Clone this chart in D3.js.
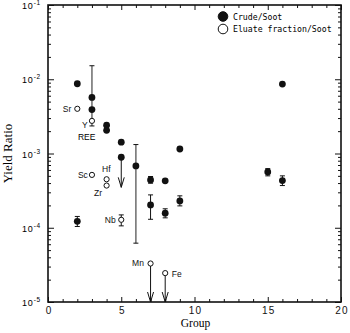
<!DOCTYPE html>
<html>
<head>
<meta charset="utf-8">
<script src="https://cdn.jsdelivr.net/npm/d3@7"></script>
<style>
  body { margin: 0; background: #fff; }
  svg { display: block; }
</style>
</head>
<body>
<div id="chart"></div>
<script>
// crude/soot (filled)
const crudeGroup = [2, 2, 3, 3, 4, 4, 5, 5, 6, 7, 7, 8, 8, 9, 9, 15, 16, 16];
const crudeRatio = [8.7e-3, 1.22e-4, 5.7e-3, 3.9e-3, 2.4e-3, 2.05e-3, 1.42e-3, 8.9e-4, 6.8e-4,
  4.4e-4, 2.03e-4, 4.28e-4, 1.57e-4, 1.15e-3, 2.3e-4, 5.65e-4, 8.6e-3, 4.32e-4];
const crudeLow = [null, 1.04e-4, null, null, null, null, null, null, null,
  3.98e-4, 1.3e-4, null, 1.36e-4, null, 1.97e-4, 5.0e-4, null, 3.7e-4];
const crudeHigh = [null, 1.42e-4, null, null, null, null, null, null, null,
  4.9e-4, 2.77e-4, null, 1.8e-4, null, 2.69e-4, 6.26e-4, null, 5.0e-4];

// eluate fraction/soot (open)
const eluateName = ["Sr", "Y", "Sc", "Hf", "Zr", "Nb", "Mn", "Fe"];
const eluateGroup = [2, 3, 3, 4, 4, 5, 7, 8];
const eluateRatio = [4.0e-3, 2.75e-3, 5.15e-4, 4.5e-4, 3.7e-4, 1.28e-4, 3.3e-5, 2.45e-5];
const eluateLow = [null, null, null, null, null, 1.06e-4, null, null];
const eluateHigh = [null, null, null, null, null, 1.49e-4, null, null];

// ranges drawn as bars with caps
const rangeGroup = [3, 6];
const rangeLow = [2.35e-3, 6.2e-5];
const rangeHigh = [1.52e-2, 1.32e-3];

// upper limits (arrows down)
const limitGroup = [5, 7, 8];
const limitFrom = [8.9e-4, 3.3e-5, 2.45e-5];
const limitTo = [3.5e-4, 1e-5, 1e-5];

const xTicks = [0, 5, 10, 15, 20];
const yDecades = [1e-5, 1e-4, 1e-3, 1e-2, 1e-1];
const yExponents = ["-5", "-4", "-3", "-2", "-1"];

const width = 350, height = 333;
const marginLeft = 48, marginRight = 9, marginTop = 5, marginBottom = 31;

const svg = d3.select("#chart").append("svg")
  .attr("width", width)
  .attr("height", height)
  .attr("font-family", "'Liberation Sans', Arial, sans-serif");

const x = d3.scaleLinear().domain([0, 20]).range([marginLeft, width - marginRight]);
const y = d3.scaleLog().domain([1e-5, 1e-1]).range([height - marginBottom, marginTop]);

const minorX = d3.range(0, 21).filter(d => d % 5 !== 0);
const minorY = y.ticks().filter(d => !yDecades.some(v => Math.abs(v - d) / d < 1e-6));

// axes with inward ticks on all sides
const addAxis = (axis, tx, ty) => {
  const g = svg.append("g").attr("transform", `translate(${tx},${ty})`).call(axis);
  g.select(".domain").remove();
  g.selectAll("line").attr("stroke", "#111").attr("stroke-width", 1);
  return g;
};
const bottomAxis = addAxis(d3.axisBottom(x).tickValues(xTicks).tickSize(-5).tickPadding(5), 0, y.range()[0]);
addAxis(d3.axisBottom(x).tickValues(minorX).tickSize(-3).tickFormat(""), 0, y.range()[0]);
addAxis(d3.axisTop(x).tickValues(xTicks).tickSize(-5).tickFormat(""), 0, y.range()[1]);
addAxis(d3.axisTop(x).tickValues(minorX).tickSize(-3).tickFormat(""), 0, y.range()[1]);
addAxis(d3.axisLeft(y).tickValues(yDecades).tickSize(-6).tickFormat(""), x.range()[0], 0);
addAxis(d3.axisLeft(y).tickValues(minorY).tickSize(-3).tickFormat(""), x.range()[0], 0);
addAxis(d3.axisRight(y).tickValues(yDecades).tickSize(-6).tickFormat(""), x.range()[1], 0);
addAxis(d3.axisRight(y).tickValues(minorY).tickSize(-3).tickFormat(""), x.range()[1], 0);

// x tick labels from the axis itself
bottomAxis
  .attr("font-family", "'Liberation Sans', Arial, sans-serif")
  .attr("font-size", 10);
bottomAxis.selectAll("text")
  .attr("fill", "#111")
  .attr("dx", 0.6)
  .style("letter-spacing", "1.2px");

svg.append("rect")
  .attr("x", x.range()[0])
  .attr("y", y.range()[1])
  .attr("width", x.range()[1] - x.range()[0])
  .attr("height", y.range()[0] - y.range()[1])
  .attr("fill", "none")
  .attr("stroke", "#111")
  .attr("stroke-width", 1.6);

// y tick labels
const yl = svg.append("g")
  .attr("font-size", 9)
  .selectAll("text")
  .data(yDecades)
  .join("text")
    .attr("x", 22)
    .attr("y", d => y(d) + 4)
    .style("letter-spacing", "0.8px");
yl.append("tspan").text("10");
yl.append("tspan")
  .attr("font-size", 6.5)
  .attr("dy", -4)
  .text((d, i) => yExponents[i]);

// axis titles
svg.append("text")
  .attr("x", 195.5)
  .attr("y", 326.5)
  .attr("text-anchor", "middle")
  .attr("font-family", "'Liberation Serif', 'Times New Roman', serif")
  .attr("font-size", 11.5)
  .text("Group");

svg.append("text")
  .attr("transform", `translate(12, ${(y.range()[0] + y.range()[1]) / 2}) rotate(-90)`)
  .attr("text-anchor", "middle")
  .attr("font-family", "'Liberation Serif', 'Times New Roman', serif")
  .attr("font-size", 13)
  .text("Yield Ratio");

const marks = svg.append("g").attr("stroke", "#111").attr("fill", "none");

// range bars
rangeGroup.forEach((g, i) => {
  const cx = x(g);
  marks.append("line").attr("x1", cx).attr("x2", cx)
    .attr("y1", y(rangeLow[i])).attr("y2", y(rangeHigh[i])).attr("stroke", "#555").attr("stroke-width", 1.3);
  [rangeLow[i], rangeHigh[i]].forEach(v => {
    marks.append("line").attr("x1", cx - 2.5).attr("x2", cx + 2.5)
      .attr("y1", y(v)).attr("y2", y(v)).attr("stroke-width", 1);
  });
});

// error bars
const errorBars = (gs, lo, hi) => {
  gs.forEach((g, i) => {
    if (lo[i] == null) return;
    const cx = x(g);
    marks.append("line").attr("x1", cx).attr("x2", cx)
      .attr("y1", y(lo[i])).attr("y2", y(hi[i])).attr("stroke-width", 1);
    [lo[i], hi[i]].forEach(v => {
      marks.append("line").attr("x1", cx - 2.5).attr("x2", cx + 2.5)
        .attr("y1", y(v)).attr("y2", y(v)).attr("stroke-width", 1);
    });
  });
};
errorBars(crudeGroup, crudeLow, crudeHigh);
errorBars(eluateGroup, eluateLow, eluateHigh);

// upper limit arrows
limitGroup.forEach((g, i) => {
  const cx = x(g);
  const y0 = y(limitFrom[i]), y1 = y(limitTo[i]);
  marks.append("line").attr("x1", cx).attr("x2", cx).attr("y1", y0).attr("y2", y1).attr("stroke-width", 1);
  marks.append("path")
    .attr("d", `M${cx - 3},${y1 - 10}L${cx},${y1}L${cx + 3},${y1 - 10}`)
    .attr("stroke-width", 1);
});

// points
svg.append("g")
  .attr("fill", "#111")
  .selectAll("circle")
  .data(crudeGroup)
  .join("circle")
    .attr("cx", d => x(d))
    .attr("cy", (d, i) => y(crudeRatio[i]))
    .attr("r", 3.4);

svg.append("g")
  .attr("fill", "#fff")
  .attr("stroke", "#111")
  .attr("stroke-width", 1)
  .selectAll("circle")
  .data(eluateGroup)
  .join("circle")
    .attr("cx", d => x(d))
    .attr("cy", (d, i) => y(eluateRatio[i]))
    .attr("r", 2.6);

// element labels
const labelOffsets = {
  Sr: [-14.5, 3.5], Y: [-10, 7.5], Sc: [-14, 3], Hf: [-4.5, -7], Zr: [-12.5, 10], Nb: [-16.5, 3], Mn: [-18.5, 2], Fe: [6.5, 3.5]
};
svg.append("g")
  .attr("font-size", 8.5)
  .attr("fill", "#111")
  .selectAll("text")
  .data(eluateName)
  .join("text")
    .attr("x", (d, i) => x(eluateGroup[i]) + labelOffsets[d][0])
    .attr("y", (d, i) => y(eluateRatio[i]) + labelOffsets[d][1])
    .text(d => d);

svg.append("text")
  .attr("x", x(3) - 14)
  .attr("y", y(2.35e-3) + 14)
  .attr("font-size", 8.5)
  .text("REE");

// legend
const legendLabels = ["Crude/Soot", "Eluate fraction/Soot"];
const legend = svg.append("g")
  .attr("font-family", "'DejaVu Sans Mono', monospace")
  .attr("font-size", 8.2)
  .selectAll("g")
  .data(legendLabels)
  .join("g")
    .attr("transform", (d, i) => `translate(223, ${16.5 + i * 12.5})`);
legend.append("circle")
  .attr("r", 4.8)
  .attr("fill", (d, i) => i === 0 ? "#111" : "#fff")
  .attr("stroke", "#111")
  .attr("stroke-width", 1);
legend.append("text")
  .attr("x", 10)
  .attr("y", 3)
  .text(d => d);
</script>
</body>
</html>
